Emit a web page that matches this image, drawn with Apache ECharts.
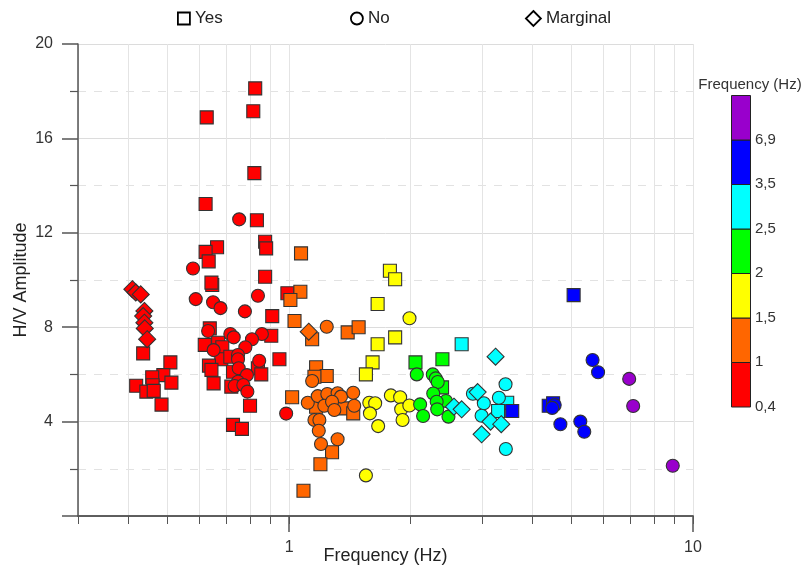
<!DOCTYPE html>
<html><head><meta charset="utf-8">
<script src="https://cdn.jsdelivr.net/npm/echarts@6/dist/echarts.min.js"></script>
<style>html,body{margin:0;padding:0;background:#fff}#c{width:806px;height:571px}</style>
</head><body><div id="c"></div>
<script>
// ---- data ----
const yesPoints = [
  [0.435,6.89],[0.508,6.51],[0.488,5.97],[0.458,5.88],[0.511,5.65],[0.418,5.52],[0.459,5.54],[0.443,5.27],[0.462,5.30],[0.483,4.72],
  [0.824,18.12],[0.815,17.15],[0.625,16.89],[0.820,14.53],[0.621,13.22],[0.832,12.53],[0.872,11.62],[0.877,11.34],[0.663,11.39],[0.621,11.19],
  [0.632,10.79],[0.645,9.79],[0.642,9.89],[0.872,10.14],[0.908,8.47],[0.636,7.95],[0.903,7.64],[0.618,7.25],[0.667,7.34],[0.683,7.15],
  [0.679,6.64],[0.633,6.37],[0.642,6.19],[0.715,6.75],[0.946,6.64],[0.726,6.11],[0.837,6.26],[0.853,6.00],[0.650,5.62],[0.719,5.48],
  [0.800,4.67],[0.726,3.86],[0.764,3.69],[0.99,9.44],
  [1.070,11.13],[1.066,9.50],[1.007,9.15],[1.031,8.26],[1.140,7.49],[1.396,7.78],[1.486,8.00],[1.166,6.30],[1.239,5.93],[1.155,5.90],
  [1.017,5.03],[1.369,4.56],[1.441,4.35],[1.166,4.63],[1.277,2.70],[1.195,2.19],[1.085,1.07],
  [1.776,10.39],[1.830,10.03],[1.656,8.98],[1.830,7.57],[1.656,7.28],[1.609,6.51],[1.549,6.00],
  [2.055,6.51],[2.396,6.64],[2.391,5.45],
  [2.674,7.28],[3.467,4.80],[3.291,4.45],
  [3.567,4.45],[5.063,9.36],[4.393,4.67],[4.504,4.78]
];
const noPoints = [
  [0.752,12.57],[0.578,10.49],[0.587,9.19],[0.648,9.06],[0.676,8.81],[0.837,9.33],[0.777,8.67],[0.630,7.84],[0.715,7.71],[0.729,7.57],
  [0.856,7.71],[0.809,7.49],[0.650,7.03],[0.779,7.15],[0.747,6.82],[0.747,6.64],[0.843,6.58],[0.750,6.26],[0.786,5.97],[0.747,5.69],
  [0.733,5.51],[0.770,5.55],[0.788,5.27],[0.983,4.34],
  [1.239,8.02],[1.140,5.72],[1.112,4.80],[1.177,5.08],[1.243,5.17],[1.318,5.20],[1.344,5.06],[1.441,5.22],[1.222,4.67],[1.277,4.84],
  [1.294,4.49],[1.449,4.67],[1.155,4.07],[1.188,4.07],[1.184,3.61],[1.199,3.05],[1.318,3.25],
  [1.986,8.38],[1.579,4.80],[1.633,4.78],[1.585,4.35],[1.661,3.81],[1.786,5.11],[1.883,5.03],[1.894,4.52],[1.909,4.07],[1.984,4.68],[1.549,1.72],
  [2.07,6.00],[2.268,6.00],[2.307,5.83],[2.333,5.68],[2.274,5.19],[2.445,4.87],[2.110,4.73],[2.319,4.84],[2.326,4.52],[2.146,4.24],[2.48,4.21],
  [2.851,5.18],[3.034,4.78],[2.996,4.25],[3.306,5.01],[3.434,5.58],[3.44,2.84],
  [5.64,6.61],[5.82,6.09],[4.545,4.70],[4.48,4.58],[4.695,3.89],[5.26,4.00],[5.38,3.57],
  [6.95,5.81],[7.11,4.66],[8.91,2.13]
];
const marginalPoints = [
  [0.409,9.61],[0.417,9.47],[0.429,9.39],[0.438,8.69],[0.435,8.47],[0.438,8.19],[0.439,7.95],[0.445,7.49],
  [1.118,7.81],
  [3.244,6.75],[2.559,4.63],[2.674,4.52],[2.929,5.25],[3.153,4.00],[3.351,3.89],[2.996,3.46]
];
const seriesNames = ['Yes','No','Marginal'];
const xMajorTicks = [1, 10];
const xMinorTicks = [0.3,0.4,0.5,0.6,0.7,0.8,0.9,1,2,3,4,5,6,7,8,9,10];
const yTicks = [0, 4, 8, 12, 16, 20];
const bandBounds = [0.4, 1, 1.5, 2, 2.5, 3.5, 6.9];
const bandColors = ['#ff0000','#ff6600','#ffff00','#00ff00','#00ffff','#0000ff','#9900cc'];
const bandLabels = ['0,4','1','1,5','2','2,5','3,5','6,9'];

// ---- chart ----
const FONT = '"Liberation Sans", Arial, sans-serif';
const pieces = bandBounds.map((b, i) => i < bandBounds.length - 1
  ? { gte: b, lt: bandBounds[i + 1], color: bandColors[i] }
  : { gte: b, color: bandColors[i] });

const barX = 731, barW = 19, barTop = 95, blockH = 44.5, n = bandColors.length;
const graphics = [];
bandColors.forEach((c, i) => {
  graphics.push({ type: 'rect', left: barX, top: barTop + (n - 1 - i) * blockH,
    shape: { width: barW, height: blockH }, style: { fill: c, stroke: '#222', lineWidth: 1 } });
});
bandLabels.forEach((t, i) => {
  graphics.push({ type: 'text', x: barX + barW + 5, y: barTop + (n - i) * blockH,
    style: { text: t, fontSize: 15, fontFamily: FONT, fill: '#333', verticalAlign: 'middle' } });
});
graphics.push({ type: 'text', x: 750, y: 85,
  style: { text: 'Frequency (Hz)', fontSize: 15, fontFamily: FONT, fill: '#333', align: 'center', verticalAlign: 'middle' } });

const symbolFor = { Yes: 'rect', No: 'circle', Marginal: 'diamond' };
const sizeFor = { Yes: 13, No: 13, Marginal: 17 };
const dataFor = { Yes: yesPoints, No: noPoints, Marginal: marginalPoints };

const legendPos = { Yes: 172, No: 345, Marginal: 520 };
const legends = seriesNames.map(nm => ({
  data: [{ name: nm, icon: symbolFor[nm] }],
  left: legendPos[nm], top: 5,
  itemWidth: nm === 'Marginal' ? 15 : 12, itemHeight: nm === 'Marginal' ? 15 : 12,
  itemGap: 6,
  itemStyle: { color: '#fff', borderColor: '#000', borderWidth: 1.8 },
  textStyle: { fontSize: 17, fontFamily: FONT, color: '#222' },
  selectedMode: false
}));

const chart = echarts.init(document.getElementById('c'), null, { renderer: 'canvas' });
chart.setOption({
  animation: false,
  backgroundColor: '#fff',
  textStyle: { fontFamily: FONT },
  legend: legends,
  grid: { left: 78, right: 113, top: 44, bottom: 55, containLabel: false, outerBoundsMode: 'none' },
  xAxis: [
    { type: 'log', logBase: 10, min: 0.3, max: 10, position: 'bottom',
      name: 'Frequency (Hz)', nameLocation: 'middle', nameGap: 31, nameMoveOverlap: false,
      nameTextStyle: { fontSize: 18, color: '#222', fontFamily: FONT },
      axisLine: { show: true, lineStyle: { color: '#555', width: 1.5 } },
      axisTick: { show: true, length: 16, customValues: xMajorTicks, lineStyle: { color: '#555', width: 1.5 } },
      axisLabel: { customValues: xMajorTicks, margin: 24, fontSize: 16, color: '#333', fontFamily: FONT },
      splitLine: { show: false } },
    { type: 'log', logBase: 10, min: 0.3, max: 10, position: 'bottom',
      axisLine: { show: true, lineStyle: { color: '#555', width: 1.5 } },
      axisTick: { show: true, length: 8, customValues: xMinorTicks, lineStyle: { color: '#555', width: 1 } },
      axisLabel: { show: false },
      splitLine: { show: true, customValues: xMinorTicks, lineStyle: { color: '#e4e4e4', width: 1 } } }
  ],
  yAxis: {
    type: 'value', min: yTicks[0], max: yTicks[yTicks.length - 1], interval: 4,
    name: 'H/V Amplitude', nameLocation: 'middle', nameGap: 48, nameMoveOverlap: false,
    nameTextStyle: { fontSize: 18, color: '#222', fontFamily: FONT },
    axisLine: { show: true, lineStyle: { color: '#555', width: 1.5 } },
    axisTick: { show: true, length: 16, lineStyle: { color: '#555', width: 1.5 } },
    minorTick: { show: true, splitNumber: 2, length: 8, lineStyle: { color: '#555', width: 1.2 } },
    axisLabel: { showMinLabel: false, margin: 25, fontSize: 16, color: '#333', fontFamily: FONT },
    splitLine: { show: true, lineStyle: { color: '#dcdcdc', width: 1 } },
    minorSplitLine: { show: true, lineStyle: { color: '#e2e2e2', width: 1, type: [8, 8] } }
  },
  visualMap: { type: 'piecewise', show: false, dimension: 0, seriesIndex: [0, 1, 2], pieces: pieces },
  graphic: graphics,
  series: seriesNames.map(nm => ({
    name: nm, type: 'scatter', xAxisIndex: 0, yAxisIndex: 0,
    symbol: symbolFor[nm], symbolSize: sizeFor[nm],
    itemStyle: { borderColor: '#333', borderWidth: 1.1, opacity: 1 },
    emphasis: { disabled: true },
    data: dataFor[nm], z: 3
  }))
});
</script></body></html>
